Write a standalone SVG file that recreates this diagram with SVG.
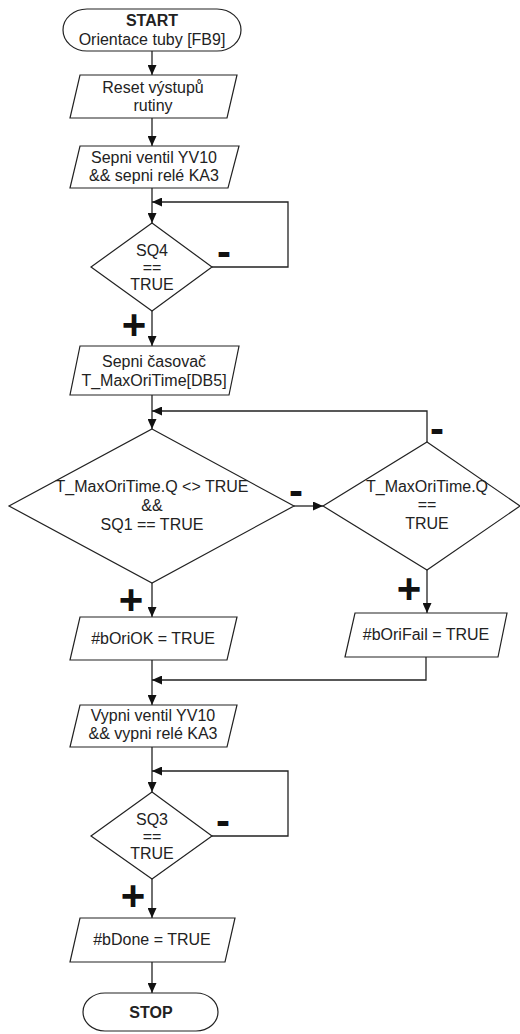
<svg xmlns="http://www.w3.org/2000/svg" width="520" height="1034" viewBox="0 0 520 1034">
<defs>
<marker id="ah" markerUnits="userSpaceOnUse" markerWidth="10" markerHeight="9" refX="10" refY="4.5" orient="auto">
<path d="M0,0 L10,4.5 L0,9 z" fill="#111"/>
</marker>
<style>
.s{fill:#fff;stroke:#222;stroke-width:1.2}
.t{font-family:"Liberation Sans",Arial,sans-serif;font-size:16px;fill:#222;text-anchor:middle}
.b{font-weight:bold}
.c{fill:none;stroke:#222;stroke-width:1.3}
.a{marker-end:url(#ah)}
.sg{font-family:"Liberation Sans",Arial,sans-serif;font-size:42px;font-weight:bold;fill:#111;text-anchor:middle}
</style>
</defs>
<rect width="520" height="1034" fill="#fff"/>
<g id="connectors">
<path class="c a" d="M152,51 V75"/>
<path class="c a" d="M152,118 V146"/>
<path class="c a" d="M152,188 V223"/>
<path class="c a" d="M212,267 H288 V202 H152"/>
<path class="c a" d="M152,311 V346"/>
<path class="c a" d="M152,395 V429"/>
<path class="c a" d="M427,442 V411 H152"/>
<path class="c a" d="M294,506 H323"/>
<path class="c a" d="M152,583 V617"/>
<path class="c a" d="M427,570 V613"/>
<path class="c a" d="M152,660 V705"/>
<path class="c a" d="M426,657 V680 H152"/>
<path class="c a" d="M152,747 V792"/>
<path class="c a" d="M212,836 H288 V771 H152"/>
<path class="c a" d="M152,879 V918"/>
<path class="c a" d="M152,962 V993"/>
</g>
<g id="start">
<rect class="s" x="63" y="9" width="178" height="42" rx="24" ry="21"/>
<text class="t b" x="152" y="26">START</text>
<text class="t" x="152" y="45">Orientace tuby [FB9]</text>
</g>
<g id="reset">
<polygon class="s" points="80,75 237,75 227,118 70,118"/>
<text class="t" x="153" y="93">Reset výstupů</text>
<text class="t" x="153" y="111">rutiny</text>
</g>
<g id="sepni-ventil">
<polygon class="s" points="80,146 239,146 228,188 70,188"/>
<text class="t" x="154" y="163">Sepni ventil YV10</text>
<text class="t" x="154" y="181">&amp;&amp; sepni relé KA3</text>
</g>
<g id="sq4">
<polygon class="s" points="152,223 212,267 152,311 91,267"/>
<text class="t" x="152" y="256">SQ4</text>
<text class="t" x="152" y="273">==</text>
<text class="t" x="152" y="290">TRUE</text>
</g>
<g id="sepni-casovac">
<polygon class="s" points="80,346 239,346 229,395 70,395"/>
<text class="t" x="154" y="367">Sepni časovač</text>
<text class="t" x="154" y="386">T_MaxOriTime[DB5]</text>
</g>
<g id="cond-ok">
<polygon class="s" points="152,429 294,506 152,583 9,506"/>
<text class="t" x="152" y="492">T_MaxOriTime.Q &lt;&gt; TRUE</text>
<text class="t" x="152" y="511">&amp;&amp;</text>
<text class="t" x="152" y="530">SQ1 == TRUE</text>
</g>
<g id="cond-fail">
<polygon class="s" points="427,442 520,506 427,570 323,506"/>
<text class="t" x="427" y="492">T_MaxOriTime.Q</text>
<text class="t" x="427" y="510">==</text>
<text class="t" x="427" y="529">TRUE</text>
</g>
<g id="ori-ok">
<polygon class="s" points="80,617 237,617 227,660 70,660"/>
<text class="t" x="153" y="644">#bOriOK = TRUE</text>
</g>
<g id="ori-fail">
<polygon class="s" points="355,613 507,613 498,657 345,657"/>
<text class="t" x="426" y="640">#bOriFail = TRUE</text>
</g>
<g id="vypni-ventil">
<polygon class="s" points="80,705 237,705 227,747 70,747"/>
<text class="t" x="153" y="721">Vypni ventil YV10</text>
<text class="t" x="153" y="739">&amp;&amp; vypni relé KA3</text>
</g>
<g id="sq3">
<polygon class="s" points="152,792 212,836 152,879 91,836"/>
<text class="t" x="152" y="825">SQ3</text>
<text class="t" x="152" y="842">==</text>
<text class="t" x="152" y="859">TRUE</text>
</g>
<g id="done">
<polygon class="s" points="80,918 235,918 225,962 70,962"/>
<text class="t" x="152" y="945">#bDone = TRUE</text>
</g>
<g id="stop">
<rect class="s" x="83" y="993" width="135" height="38" rx="22" ry="19"/>
<text class="t b" x="151" y="1018">STOP</text>
</g>
<g id="signs">
<text class="sg" x="224" y="266">-</text>
<text class="sg" x="134" y="339">+</text>
<text class="sg" x="296" y="505">-</text>
<text class="sg" x="437" y="443">-</text>
<text class="sg" x="131" y="614">+</text>
<text class="sg" x="409" y="603">+</text>
<text class="sg" x="223" y="835">-</text>
<text class="sg" x="133" y="910">+</text>
</g>
</svg>
